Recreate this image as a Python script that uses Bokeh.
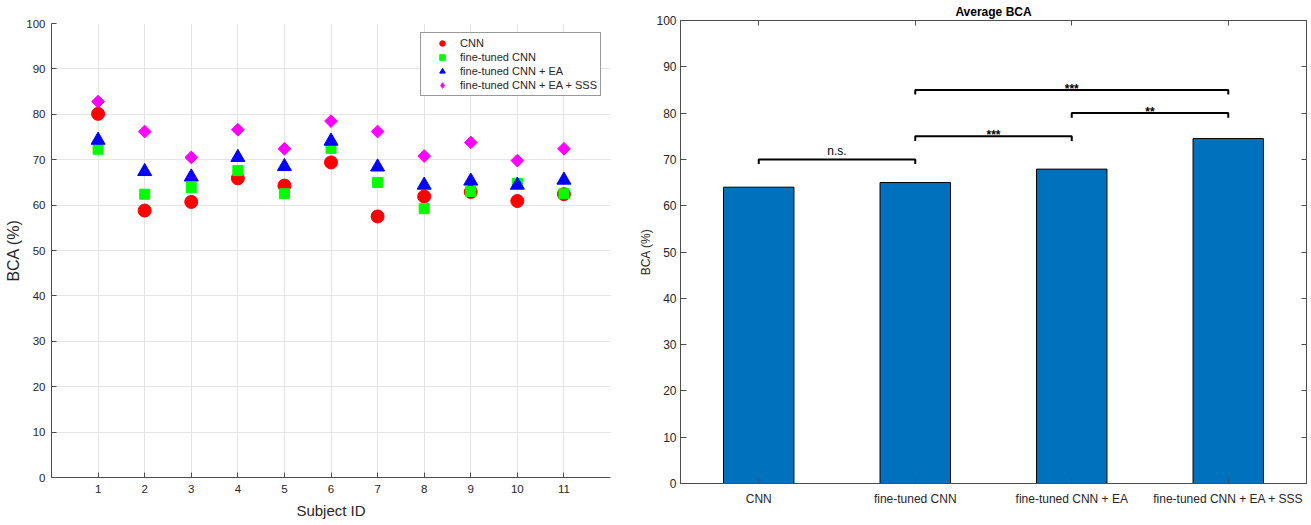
import math
from bokeh.plotting import figure
from bokeh.models import (LinearAxis, FixedTicker, Range1d, Legend, LegendItem,
                          ColumnDataSource)
from bokeh.layouts import row, column
from bokeh.embed import file_html
from bokeh.resources import INLINE
from bokeh.core.properties import value

# ---------------- data ----------------
subjects = [1, 2, 3, 4, 5, 6, 7, 8, 9, 10, 11]
cnn = [80.1, 58.8, 60.7, 65.9, 64.3, 69.4, 57.5, 61.9, 62.9, 60.9, 62.4]
ft_cnn = [72.3, 62.4, 63.9, 67.6, 62.5, 72.5, 65.0, 59.2, 63.0, 64.8, 62.5]
ft_cnn_ea = [74.3, 67.4, 66.2, 70.5, 68.5, 74.1, 68.4, 64.4, 65.3, 64.4, 65.5]
ft_cnn_ea_sss = [82.8, 76.2, 70.5, 76.6, 72.4, 78.5, 76.2, 70.8, 73.8, 69.8, 72.4]
series_names = ["CNN", "fine-tuned CNN", "fine-tuned CNN + EA", "fine-tuned CNN + EA + SSS"]

y_ticks = [0, 10, 20, 30, 40, 50, 60, 70, 80, 90, 100]

methods = ["CNN", "fine-tuned CNN", "fine-tuned CNN + EA", "fine-tuned CNN + EA + SSS"]
method_pos = [1, 2, 3, 4]
avg_bca = [64.0, 65.0, 67.9, 74.5]

bracket_left = [1, 2, 2, 3]
bracket_right = [2, 3, 4, 4]
bracket_y = [70, 75, 85, 80]
bracket_label = ["n.s.", "***", "***", "**"]

FONT = "Liberation Sans"
AX = "#4d4d4d"
TXT = "#262626"


def style_axis(ax, size="11.5px", tick_len=5):
    ax.axis_line_color = AX
    ax.axis_line_width = 1
    ax.major_tick_line_color = AX
    ax.major_tick_in = tick_len
    ax.major_tick_out = 0
    ax.minor_tick_line_color = None
    ax.major_label_text_font = FONT
    ax.major_label_text_font_size = size
    ax.major_label_text_color = TXT
    ax.axis_label_text_font = FONT
    ax.axis_label_text_font_style = "normal"
    ax.axis_label_text_color = TXT


# ---------------- left: per subject ----------------
p1 = figure(width=636, height=525, x_range=Range1d(0, 12), y_range=Range1d(0, 100),
            output_backend="svg", toolbar_location=None,
            min_border_left=51, min_border_right=26, min_border_top=23, min_border_bottom=48)
p1.outline_line_color = None
p1.background_fill_color = "white"

p1.xaxis.ticker = FixedTicker(ticks=subjects)
p1.yaxis.ticker = FixedTicker(ticks=y_ticks)
p1.xgrid.ticker = FixedTicker(ticks=subjects)
p1.ygrid.ticker = FixedTicker(ticks=y_ticks)
p1.grid.grid_line_color = "#e4e4e4"
p1.grid.grid_line_width = 1

for ax in p1.xaxis:
    style_axis(ax)
    ax.axis_label = "Subject ID"
    ax.axis_label_text_font_size = "15px"
    ax.major_label_standoff = 7
    ax.axis_label_standoff = 6
for ax in p1.yaxis:
    style_axis(ax)
    ax.axis_label = "BCA (%)"
    ax.axis_label_text_font_size = "16px"
    ax.major_label_standoff = 6
    ax.axis_label_standoff = 1

src = ColumnDataSource(dict(x=subjects, a=cnn, b=ft_cnn, c=ft_cnn_ea, d=ft_cnn_ea_sss))
r1 = p1.scatter("x", "a", source=src, marker="circle", size=13,
                fill_color="#ff0000", line_color="#ff0000")
r2 = p1.scatter("x", "b", source=src, marker="square", size=10,
                fill_color="#00ff00", line_color="#00ff00")
r3 = p1.scatter("x", "c", source=src, marker="triangle", size=14,
                fill_color="#0000ff", line_color="#0000ff")
r4 = p1.scatter("x", "d", source=src, marker="square", size=9, angle=math.pi / 4,
                fill_color="#ff00ff", line_color="#ff00ff")
# hidden twin of the diamond series, used only for its legend key shape
r4_key = p1.scatter("x", "d", source=src, marker="diamond", size=14,
                    fill_color="#ff00ff", line_color="#ff00ff", visible=False)

legend = Legend(items=[LegendItem(label=n, renderers=[r]) for n, r in
                       zip(series_names, [r1, r2, r3, r4_key])],
                location="top_right")
legend.margin = 9
legend.padding = 3
legend.spacing = 0
legend.glyph_width = 36
legend.glyph_height = 14
legend.label_height = 14
legend.label_standoff = 0
legend.label_text_font = FONT
legend.label_text_font_size = "11px"
legend.label_text_color = TXT
legend.border_line_color = "#333333"
legend.border_line_width = 1
legend.background_fill_color = "white"
legend.background_fill_alpha = 1
legend.inactive_fill_alpha = 0
p1.add_layout(legend)

# ---------------- right: average ----------------
p2 = figure(width=675, height=525, x_range=Range1d(0.5, 4.5), y_range=Range1d(0, 100),
            output_backend="svg", toolbar_location=None,
            min_border_left=44, min_border_right=5, min_border_top=20, min_border_bottom=42)
p2.grid.visible = False
p2.outline_line_color = AX
p2.title.text = "Average BCA"
p2.title.align = "center"
p2.title.text_font = FONT
p2.title.text_font_size = "12px"
p2.title.text_font_style = "bold"
p2.title.text_color = "black"
p2.title.standoff = 3

p2.xaxis.ticker = FixedTicker(ticks=method_pos)
p2.xaxis.major_label_overrides = {pos: name for pos, name in zip(method_pos, methods)}
p2.yaxis.ticker = FixedTicker(ticks=y_ticks)
for ax in p2.xaxis:
    style_axis(ax, size="12px", tick_len=5)
    ax.major_label_standoff = 8
for ax in p2.yaxis:
    style_axis(ax, size="12px", tick_len=6)
    ax.axis_label = "BCA (%)"
    ax.axis_label_text_font_size = "12px"
    ax.major_label_standoff = 4
    ax.axis_label_standoff = 0

top_ax = LinearAxis(ticker=FixedTicker(ticks=method_pos))
right_ax = LinearAxis(ticker=FixedTicker(ticks=y_ticks))
for ax in (top_ax, right_ax):
    style_axis(ax, size="0px", tick_len=5)
    ax.major_label_standoff = 0
    ax.major_label_text_alpha = 0
p2.add_layout(top_ax, "above")
p2.add_layout(right_ax, "right")

p2.vbar(x=method_pos, top=avg_bca, width=0.45, fill_color="#0072BD",
        line_color="black", line_width=1)

# significance brackets
bx = [[l, l, r, r] for l, r in zip(bracket_left, bracket_right)]
by = [[h - 1, h, h, h - 1] for h in bracket_y]
p2.multi_line(bx, by, line_color="black", line_width=2)

mid = [(l + r) / 2 for l, r in zip(bracket_left, bracket_right)]
ns_idx = [i for i, t in enumerate(bracket_label) if not t.startswith("*")]
st_idx = [i for i, t in enumerate(bracket_label) if t.startswith("*")]
p2.text(x=[mid[i] for i in ns_idx], y=[bracket_y[i] for i in ns_idx],
        text=[bracket_label[i] for i in ns_idx], text_align="center",
        text_baseline="middle", y_offset=-8, text_font=value(FONT),
        text_font_size="12px", text_color="black")
p2.text(x=[mid[i] for i in st_idx], y=[bracket_y[i] for i in st_idx],
        text=[bracket_label[i] for i in st_idx], text_align="center",
        text_baseline="middle", y_offset=-1, text_font=value(FONT),
        text_font_size="12px", text_font_style="bold", text_color="black")

layout = row(column(p1), column(p2))
open("out.html", "w").write(file_html(layout, INLINE))
